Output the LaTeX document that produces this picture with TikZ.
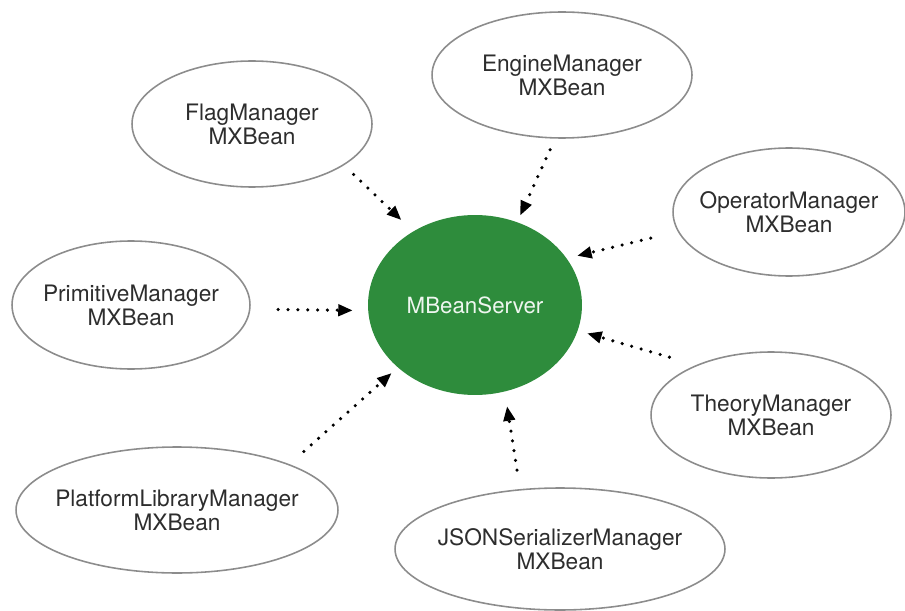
\documentclass[tikz,border=0pt]{standalone}
\usepackage{fontspec}
\setmainfont{TeX Gyre Heros}
\usetikzlibrary{arrows.meta,shapes.geometric}
\definecolor{servergreen}{RGB}{46,140,60}
\definecolor{beanborder}{RGB}{140,140,140}
\definecolor{beantext}{RGB}{45,45,45}
\begin{document}
\begin{tikzpicture}[x=0.02cm, y=-0.02cm,
    bean/.style={ellipse, draw=beanborder, line width=0.9pt, inner sep=0pt, outer sep=0pt},
    beanlabel/.style={align=center, text=beantext, font=\fontsize{12.9}{13.6}\selectfont},
    calls/.style={line width=2pt, line cap=round, dash pattern=on 0pt off 5.6pt,
        -{Triangle[length=0.28cm, width=0.25cm, line width=0pt]}}]
    \useasboundingbox (0, 0) rectangle (905, 611);
    \node[ellipse, fill=servergreen, inner sep=0pt, outer sep=0pt, minimum width=4.28cm, minimum height=3.6cm,
        text=white!92!servergreen, font=\fontsize{12.7}{13.6}\selectfont] (server) at (475, 305) {MBeanServer};
    \node[bean, minimum width=4.8cm, minimum height=2.52cm] (flag) at (252, 124) {};
    \node[bean, minimum width=5.2cm, minimum height=2.52cm] (engine) at (562, 75) {};
    \node[bean, minimum width=4.64cm, minimum height=2.56cm] (operator) at (789, 212) {};
    \node[bean, minimum width=4.76cm, minimum height=2.56cm] (primitive) at (131, 305) {};
    \node[bean, minimum width=4.8cm, minimum height=2.52cm] (theory) at (771, 415) {};
    \node[bean, minimum width=6.44cm, minimum height=2.52cm] (platform) at (177, 510) {};
    \node[bean, minimum width=6.6cm, minimum height=2.44cm] (json) at (560, 549) {};
    \node[beanlabel] (flag-text) at (flag) {FlagManager\\MXBean};
    \node[beanlabel] (engine-text) at (engine) {EngineManager\\MXBean};
    \node[beanlabel] (operator-text) at (operator) {OperatorManager\\MXBean};
    \node[beanlabel] (primitive-text) at (primitive) {PrimitiveManager\\MXBean};
    \node[beanlabel] (theory-text) at (theory) {TheoryManager\\MXBean};
    \node[beanlabel] (platform-text) at (platform) {PlatformLibraryManager\\MXBean};
    \node[beanlabel] (json-text) at (json) {JSONSerializerManager\\MXBean};
    \draw[calls, shorten <=0.28cm, shorten >=0.34cm] (flag.-24.5) -- (server.130.1);
    \draw[calls, shorten <=0.26cm, shorten >=0.16cm] (engine.-96) -- (server.63.3);
    \draw[calls, shorten <=0.57cm, shorten >=0.23cm] (operator.-170.7) -- (server.27.5);
    \draw[calls, shorten <=0.57cm, shorten >=0.32cm] (primitive.-2.4) -- (server.-177.3);
    \draw[calls, shorten <=0.58cm, shorten >=0.21cm] (theory.146.8) -- (server.-14.9);
    \draw[calls, shorten <=0.4cm, shorten >=0.18cm] (platform.22.4) -- (server.-141.2);
    \draw[calls, shorten <=0.4cm, shorten >=0.31cm] (json.124.9) -- (server.-71);
\end{tikzpicture}
\end{document}
